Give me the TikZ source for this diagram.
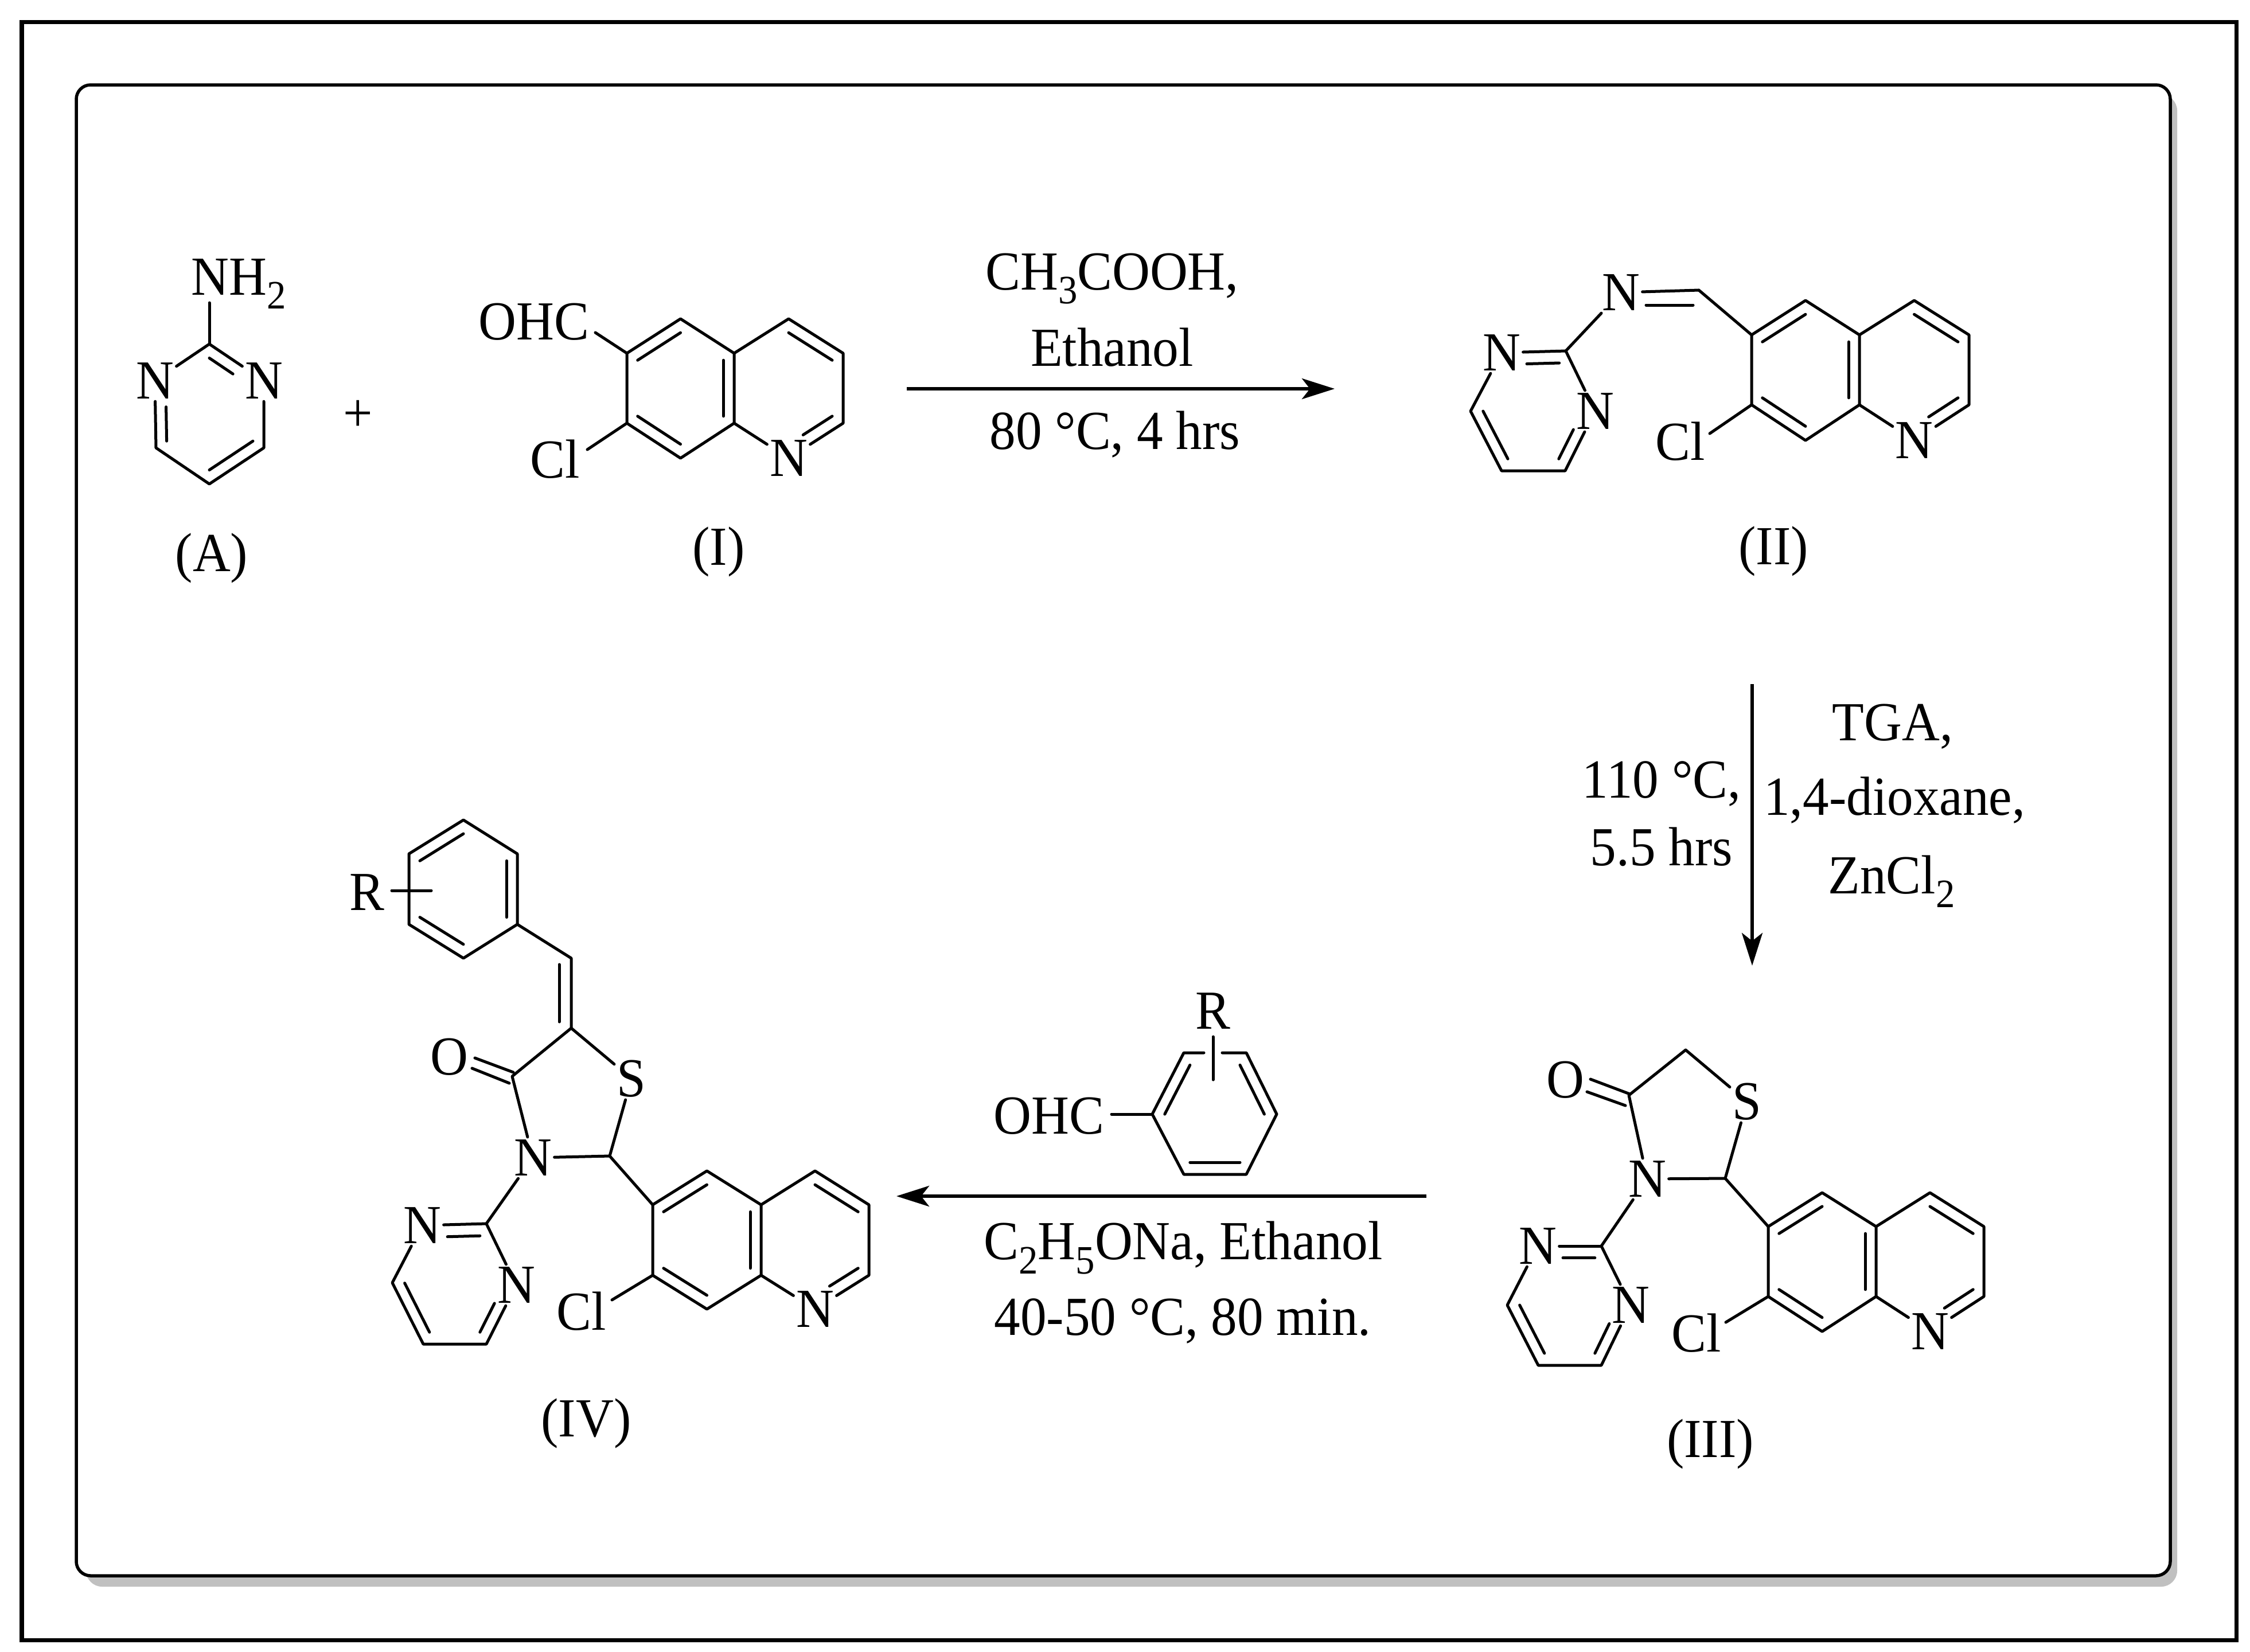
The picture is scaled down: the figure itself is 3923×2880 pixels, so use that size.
\documentclass[tikz,border=0pt]{standalone}
\usepackage{fontspec}
\setmainfont{Liberation Serif}[FakeStretch=0.95]
\usetikzlibrary{calc,arrows.meta}
\definecolor{shadowgray}{HTML}{C0C0C0}
\newcommand{\lowidx}[1]{\raisebox{-0.26em}{\fontsize{20pt}{20pt}\selectfont #1}}
\newcommand{\dbl}[4][]{\draw[bond,#1] ($(#2)!.2!(#4)$) -- ($(#3)!.2!(#4)$);}
% quinoline: prefix, xL, xM, xR, yTop, yUp, yLo, yBot
\newcommand{\quinoline}[8]{
  \coordinate (#1a) at (#2,#6);
  \coordinate (#1b) at ({(#2+#3)/2},#5);
  \coordinate (#1c) at (#3,#6);
  \coordinate (#1d) at (#3,#7);
  \coordinate (#1e) at ({(#2+#3)/2},#8);
  \coordinate (#1f) at (#2,#7);
  \coordinate (#1g) at ({(#3+#4)/2},#5);
  \coordinate (#1h) at (#4,#6);
  \coordinate (#1i) at (#4,#7);
  \coordinate (#1x) at ({(#2+#3)/2},{(#6+#7)/2});
  \coordinate (#1y) at ({(#3+#4)/2},{(#6+#7)/2});
  \node[atom] (#1N) at ({(#3+#4)/2},#8) {N};
  \draw[bond] (#1a)--(#1b)--(#1c)--(#1d)--(#1e)--(#1f)--cycle;
  \draw[bond] (#1c)--(#1g)--(#1h)--(#1i)--(#1N);
  \draw[bond] (#1d)--(#1N);
  \dbl{#1a}{#1b}{#1x}
  \dbl{#1c}{#1d}{#1x}
  \dbl{#1e}{#1f}{#1x}
  \dbl{#1g}{#1h}{#1y}
  \dbl[shorten >=0.3cm]{#1i}{#1N}{#1y}
}
% pyrimidinyl: prefix, C2, N left, N right, left C, bottom left, bottom right, centre
\newcommand{\pyrimidinyl}[8]{
  \coordinate (#1C) at (#2);
  \node[atom] (#1A) at (#3) {N};
  \node[atom] (#1B) at (#4) {N};
  \coordinate (#1L) at (#5);
  \coordinate (#1P) at (#6);
  \coordinate (#1Q) at (#7);
  \coordinate (#1O) at (#8);
  \draw[bond] (#1A)--(#1C);
  \draw[bond] (#1C)--(#1B);
  \draw[bond] (#1A)--(#1L)--(#1P)--(#1Q)--(#1B);
  \dbl[shorten <=0.33cm]{#1A}{#1C}{#1O}
  \dbl{#1L}{#1P}{#1O}
  \dbl[shorten >=0.36cm]{#1Q}{#1B}{#1O}
}
\begin{document}
\begin{tikzpicture}[x=0.01cm,y=-0.01cm,
  bond/.style={line width=0.05cm,line cap=round,line join=round,black},
  atom/.style={inner sep=0.04cm,font=\fontsize{27.3pt}{30pt}\selectfont},
  txt/.style={inner sep=0pt,anchor=base,font=\fontsize{27.3pt}{30pt}\selectfont},
  rarrow/.style={line width=0.055cm,-{Stealth[length=0.57cm,width=0.36cm,inset=0.14cm]}},
  frameline/.style={line width=0.07cm,black},
  panel/.style={line width=0.055cm,rounded corners=0.25cm,draw=black,fill=white},
  panelshadow/.style={rounded corners=0.28cm,fill=shadowgray}]
\useasboundingbox (0,0) rectangle (3923,2880);
\fill[white] (0,0) rectangle (3923,2880);
\draw[frameline] (38,38) rectangle (3899,2860);
\fill[panelshadow] (150,165) rectangle (3796,2767);
\draw[panel] (133,148) rectangle (3784,2748);

% (A)
\coordinate (AC2) at (365,600);
\node[atom] (AN1) at (270,664) {N};
\node[atom] (AN3) at (460,664) {N};
\coordinate (AC4) at (460,781);
\coordinate (AC5) at (365,844);
\coordinate (AC6) at (272,781);
\coordinate (AO) at (365,722);
\node[txt,anchor=base west] (ANH) at (333,514) {NH\lowidx{2}};
\coordinate (ANHe) at (365,528);
\draw[bond] (AC2)--(ANHe);
\draw[bond] (AN1)--(AC2);
\draw[bond] (AC2)--(AN3);
\draw[bond] (AN3)--(AC4)--(AC5)--(AC6)--(AN1);
\dbl[shorten >=0.42cm]{AC2}{AN3}{AO}
\dbl{AC4}{AC5}{AO}
\dbl[shorten >=0.34cm]{AC6}{AN1}{AO}
\node[txt] (Alab) at (369,996) {(A)};
\node[txt] (plus) at (624,752) {+};

% (I)
\quinoline{I}{1093}{1280}{1470}{556}{616}{738}{799}
\node[txt] (Iohc) at (931,592) {OHC};
\node[atom] (Icl) at (968,801) {Cl};
\coordinate (Iohce) at (1038,580);
\coordinate (Icle) at (1024,784);
\draw[bond] (Ia)--(Iohce);
\draw[bond] (If)--(Icle);
\node[txt] (Ilab) at (1253,985) {(I)};

% arrow I -> II
\coordinate (t1) at (1581,678);
\coordinate (t2) at (2327,678);
\draw[rarrow] (t1)--(t2);
\node[txt] (ta) at (1939,505) {CH\lowidx{3}COOH,};
\node[txt] (tb) at (1939,638) {Ethanol};
\node[txt] (tc) at (1944,783) {80 °C, 4 hrs};

% (II)
\quinoline{T}{3054}{3242}{3433}{524}{584}{706}{768}
\pyrimidinyl{U}{2730,612}{2618,615}{2781,717}{2564,717}{2618,821}{2729,821}{2673,717}
\node[atom] (Tim) at (2826,510) {N};
\coordinate (Tch) at (2962,506);
\draw[bond] (Tim)--(Tch);
\draw[bond] (Tch)--(Ta);
\draw[bond] (Tim)--(UC);
\draw[bond] (2870,532)--(2952,532);
\node[atom] (Tcl) at (2930,770) {Cl};
\coordinate (Tcle) at (2981,756);
\draw[bond] (Tf)--(Tcle);
\node[txt] (Tlab) at (3092,984) {(II)};

% arrow II -> III
\coordinate (v1) at (3055,1193);
\coordinate (v2) at (3055,1684);
\draw[rarrow] (v1)--(v2);
\node[txt] (va) at (3300,1291) {TGA,};
\node[txt] (vb) at (3303,1421) {1,4-dioxane,};
\node[txt] (vc) at (3298,1558) {ZnCl\lowidx{2}};
\node[txt] (vd) at (2897,1391) {110 °C,};
\node[txt] (ve) at (2897,1509) {5.5 hrs};

% (III)
\quinoline{K}{3083}{3271}{3459}{2080}{2139}{2261}{2322}
\pyrimidinyl{W}{2792,2173}{2681,2173}{2843,2276}{2628,2276}{2682,2381}{2792,2381}{2736,2276}
\coordinate (Kco) at (2840,1910);
\coordinate (Kch) at (2939,1831);
\coordinate (Kc2) at (3008,2055);
\node[atom] (Ks) at (3046,1921) {S};
\node[atom] (Kn) at (2872,2056) {N};
\node[atom] (Ko) at (2729,1883) {O};
\coordinate (Ko1) at (2773,1882);
\coordinate (Ko2) at (2767,1904);
\coordinate (Kc1) at (2842,1908);
\coordinate (Kc3) at (2834,1928);
\draw[bond] (Ko1)--(Kc1);
\draw[bond] (Ko2)--(Kc3);
\draw[bond] (Kn)--(Kco)--(Kch)--(Ks);
\draw[bond] (Ks)--(Kc2);
\draw[bond] (Kc2)--(Kn);
\draw[bond] (Kc2)--(Ka);
\draw[bond] (Kn)--(WC);
\node[atom] (Kcl) at (2958,2325) {Cl};
\coordinate (Kcle) at (3009,2306);
\draw[bond] (Kf)--(Kcle);
\node[txt] (Klab) at (2982,2541) {(III)};

% arrow III -> IV with reagent ring
\coordinate (b1) at (2487,2086);
\coordinate (b2) at (1563,2086);
\draw[rarrow] (b1)--(b2);
\node[txt] (ba) at (2063,2196) {C\lowidx{2}H\lowidx{5}ONa, Ethanol};
\node[txt] (bb) at (2062,2328) {40-50 °C, 80 min.};
\coordinate (Ra) at (2009,1943);
\coordinate (Rb) at (2064,1836);
\coordinate (Rc) at (2173,1836);
\coordinate (Rd) at (2226,1943);
\coordinate (Re) at (2173,2048);
\coordinate (Rf) at (2064,2048);
\coordinate (RO) at (2118,1943);
\coordinate (Rg) at (2099,1836);
\coordinate (Rh) at (2131,1836);
\draw[bond] (Rg)--(Rb)--(Ra)--(Rf)--(Re)--(Rd)--(Rc)--(Rh);
\dbl{Ra}{Rb}{RO}
\dbl{Rc}{Rd}{RO}
\dbl{Re}{Rf}{RO}
\node[txt] (Rr) at (2115,1794) {R};
\coordinate (Rt) at (2115,1808);
\coordinate (Ru) at (2115,1883);
\draw[bond] (Rt)--(Ru);
\node[txt,anchor=base east] (Rohc) at (1926,1977) {OHC};
\coordinate (Rk) at (1938,1943);
\draw[bond] (Rk)--(Ra);

% (IV)
\quinoline{M}{1138}{1327}{1515}{2042}{2101}{2224}{2283}
\pyrimidinyl{Y}{848,2134}{736,2137}{900,2241}{684,2237}{738,2344}{848,2344}{792,2240}
\coordinate (Pa) at (808,1430);
\coordinate (Pb) at (713,1489);
\coordinate (Pc) at (713,1612);
\coordinate (Pd) at (808,1671);
\coordinate (Pe) at (902,1612);
\coordinate (Pf) at (902,1489);
\coordinate (PO) at (808,1550);
\draw[bond] (Pa)--(Pb)--(Pc)--(Pd)--(Pe)--(Pf)--cycle;
\dbl{Pa}{Pb}{PO}
\dbl{Pc}{Pd}{PO}
\dbl{Pe}{Pf}{PO}
\node[atom] (Pr) at (640,1556) {R};
\coordinate (Pr1) at (683,1553);
\coordinate (Pr2) at (752,1553);
\draw[bond] (Pr1)--(Pr2);
\coordinate (Mch) at (996,1671);
\coordinate (Mc5) at (996,1793);
\coordinate (Mi1) at (975,1682);
\coordinate (Mi2) at (975,1782);
\draw[bond] (Pe)--(Mch)--(Mc5);
\draw[bond] (Mi1)--(Mi2);
\node[atom] (Ms) at (1101,1881) {S};
\coordinate (Mco) at (893,1877);
\node[atom] (Mo) at (783,1843) {O};
\coordinate (Mo1) at (828,1845);
\coordinate (Mo2) at (823,1863);
\coordinate (Mo3) at (895,1870);
\coordinate (Mo4) at (888,1889);
\draw[bond] (Mo1)--(Mo3);
\draw[bond] (Mo2)--(Mo4);
\node[atom] (Mn) at (929,2019) {N};
\coordinate (Mc2) at (1063,2016);
\draw[bond] (Mn)--(Mco)--(Mc5)--(Ms);
\draw[bond] (Ms)--(Mc2);
\draw[bond] (Mc2)--(Mn);
\draw[bond] (Mc2)--(Ma);
\draw[bond] (Mn)--(YC);
\node[atom] (Mcl) at (1014,2287) {Cl};
\coordinate (Mcle) at (1067,2267);
\draw[bond] (Mf)--(Mcle);
\node[txt] (Mlab) at (1022,2505) {(IV)};
\end{tikzpicture}
\end{document}
